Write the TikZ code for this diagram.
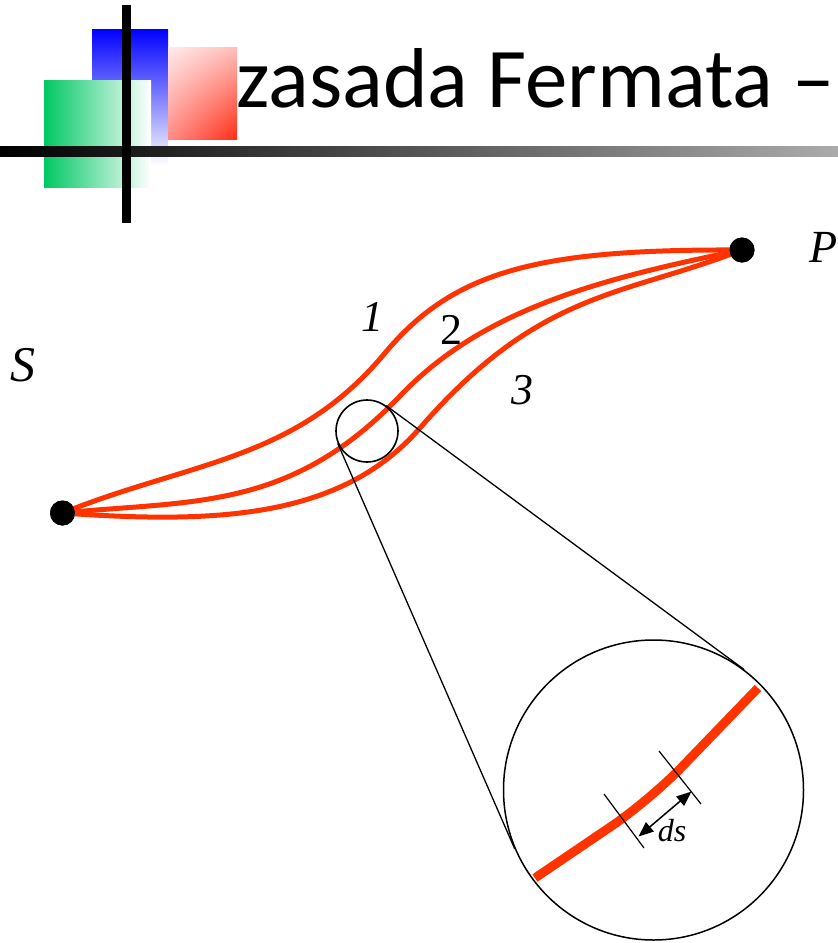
\documentclass[tikz,border=0pt]{standalone}
\usepackage{fontspec}
\setmainfont{Liberation Serif}
\newfontfamily\titlefont{Carlito}
\usetikzlibrary{arrows.meta,shadings}
\definecolor{ray}{RGB}{255,51,0}
\definecolor{logogreen}{RGB}{0,200,100}
\definecolor{redUL}{RGB}{255,236,236}
\definecolor{redUR}{RGB}{255,190,186}
\definecolor{redLL}{RGB}{255,140,135}
\definecolor{redLR}{RGB}{255,45,20}
\tikzset{
  raypath/.style={draw=ray, line width=5pt, line join=round},
  dotnode/.style={circle, fill=black, inner sep=0pt, minimum size=25pt},
  lbl/.style={inner sep=0pt, font=\fontsize{44}{50}\selectfont},
  ring/.style={circle, draw=black, inner sep=0pt, line width=1.5pt},
  tanline/.style={draw=black, line width=1.3pt},
  tick/.style={draw=black, line width=1.2pt},
}
\begin{document}
\begin{tikzpicture}[x=1pt,y=-1pt]
\useasboundingbox (0,0) rectangle (838,943);
% logo
\shade[top color=blue, bottom color=white] (92,29) rectangle (168,165);
\shade[left color=logogreen, right color=white] (44,80) rectangle (151,187);
\shade[upper left=redUL, upper right=redUR, lower left=redLL, lower right=redLR] (168,47) rectangle (237,139);
\shade[left color=black, right color=black!33] (0,146) rectangle (838,156);
\fill[black] (122,5) rectangle (131,223);
\node[anchor=base west, inner sep=0pt, font=\titlefont\fontsize{85}{90}\selectfont] (title) at (236,107) {zasada Fermata –};
% paths
\node[dotnode] (S) at (62.5,513) {};
\node[dotnode] (P) at (742,250) {};
\draw[raypath] (S.center) .. controls (192.5,461) and (295,461) .. (385,353)
  .. controls (455,269) and (542,249) .. (P.center);
\draw[raypath] (S.center) .. controls (192.5,500) and (290,511.5) .. (400,396)
  .. controls (480,312) and (592,280) .. (P.center);
\draw[raypath] (S.center) .. controls (212.5,523.5) and (340,520) .. (420,428)
  .. controls (540,290) and (622,296.6) .. (P.center);
\node[dotnode] at (S) {};
\node[dotnode] at (P) {};
\node[lbl, font=\fontsize{50}{54}\selectfont\itshape] (Slbl) at (22.5,365) {S};
\node[lbl, font=\fontsize{46}{50}\selectfont\itshape] (Plbl) at (824,247) {P};
\node[lbl, font=\fontsize{44}{50}\selectfont\itshape] (one) at (372,317) {1};
\node[lbl] (two) at (451,330) {2};
\node[lbl, font=\fontsize{44}{50}\selectfont\itshape] (three) at (522,390) {3};
% magnifier
\node[ring, minimum size=62pt, line width=1.6pt] (small) at (367,431) {};
\node[ring, minimum size=300pt] (big) at (653.5,790) {};
\draw[tanline] (small.203.6) -- (big.203.6);
\draw[tanline] (small.53.6) -- (big.53.6);
\draw[draw=ray, line width=9pt, rounded corners=45pt] (535,878) -- (650,800) -- (758,688);
\coordinate (t1a) at (604,794);
\coordinate (t1b) at (644,848);
\coordinate (t2a) at (659,751);
\coordinate (t2b) at (701,804);
\draw[tick] (t1a) -- (t1b);
\draw[tick] (t2a) -- (t2b);
\coordinate (da) at (638.5,836.5);
\coordinate (db) at (691.5,791.5);
\draw[line width=1.5pt, {Triangle[length=15pt,width=12pt]}-{Triangle[length=15pt,width=12pt]}] (da) -- (db);
\node[inner sep=0pt, font=\fontsize{32}{36}\selectfont\itshape] (ds) at (672,831) {ds};
\end{tikzpicture}
\end{document}
